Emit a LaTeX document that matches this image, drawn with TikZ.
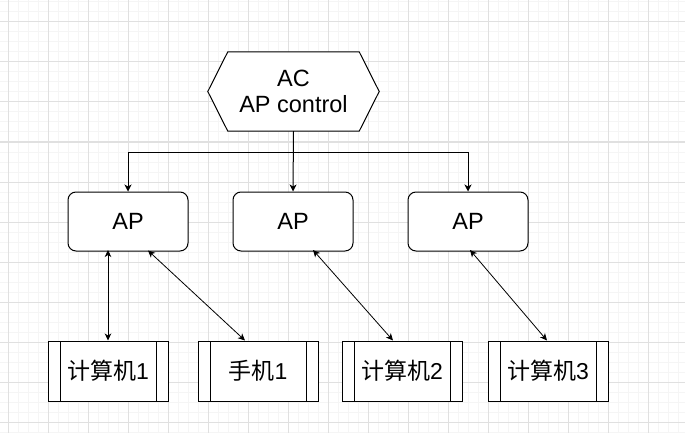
\documentclass[tikz,border=0pt]{standalone}
\usepackage{fontspec}
\setmainfont{Liberation Sans}
\newfontfamily\cjk{Noto Sans CJK SC}
\usepackage{tikz}
\usetikzlibrary{arrows.meta}

\begin{document}
\begin{tikzpicture}[
    x=1pt, y=-1pt,
    minorline/.style={draw=black!4, line width=1pt},
    majorline/.style={draw=black!12, line width=1pt},
    apbox/.style={
        % The shape:
        rectangle,
        rounded corners=8pt,
        % The size:
        minimum width=120pt,
        minimum height=59pt,
        % The border
        line width=1pt,
        draw=black,
        % The filling
        fill=white,
        % Font
        font=\fontsize{23.5}{26}\selectfont
    },
    acbox/.style={
        % The size:
        minimum width=131pt,
        minimum height=79pt,
        % Font
        align=center,
        font=\fontsize{23.5}{25.5}\selectfont
    },
    devbox/.style={
        % The shape:
        rectangle,
        % The size:
        minimum width=120pt,
        minimum height=60pt,
        % The border
        line width=1pt,
        draw=black,
        % The filling
        fill=white,
        % Font
        font=\fontsize{23}{26}\selectfont,
        % The side bars
        path picture={
            \draw[line width=1pt] ([xshift=12pt]path picture bounding box.north west) -- ([xshift=12pt]path picture bounding box.south west);
            \draw[line width=1pt] ([xshift=-12pt]path picture bounding box.north east) -- ([xshift=-12pt]path picture bounding box.south east);
        }
    },
    tip/.style={-{Stealth[length=7pt, width=7pt, inset=2pt]}, line width=1pt},
    both/.style={{Stealth[length=7pt, width=6.5pt, inset=2pt]}-{Stealth[length=7pt, width=6.5pt, inset=2pt]}, line width=0.8pt}
    ]

    % background grid
    \useasboundingbox (0,0) rectangle (685,433);
    \fill[white] (0,0) rectangle (685,433);
    \foreach \g in {8,18,...,678}
        \draw[minorline] (\g,0) -- (\g,433);
    \foreach \g in {2,12,...,432}
        \draw[minorline] (0,\g) -- (685,\g);
    \foreach \g in {8,48,...,648}
        \draw[majorline] (\g,0) -- (\g,433);
    \foreach \g in {22,62,...,422}
        \draw[majorline] (0,\g) -- (685,\g);

    % controller
    \node (ac) [acbox] at (293.5,91.5) {AC\\AP control};
    \draw[line width=1pt, fill=white] (ac.north west) -- (ac.north east) -- ([xshift=20pt]ac.east)
        -- (ac.south east) -- (ac.south west) -- ([xshift=-20pt]ac.west) -- cycle;
    \node [acbox] at (ac) {AC\\AP control};

    % access points
    \foreach \n/\x in {ap1/128, ap2/293, ap3/468}
        \node (\n) [apbox] at (\x,221.5) {AP};

    % devices
    \foreach \n/\x/\ntext in {pc1/108/{{\cjk 计算机}1}, phone/258/{{\cjk 手机}1}, pc2/402/{{\cjk 计算机}2}, pc3/548/{{\cjk 计算机}3}}
        \node (\n) [devbox] at (\x,371) {\ntext};

    \coordinate (split) at (293.5,152);
    \draw[tip] (ac.south) -- (ap2.north);
    \draw[tip] (split) -| (ap1.north);
    \draw[tip] (split) -| (ap3.north);

    \draw[both] ([yshift=1.5pt]ap1.south -| pc1.north) -- (pc1.north);
    \draw[both] ([xshift=20pt, yshift=1pt]ap1.south) -- ([xshift=-13pt]phone.north);
    \draw[both] ([xshift=20pt, yshift=1.5pt]ap2.south) -- ([xshift=-9pt]pc2.north);
    \draw[both] ([xshift=2pt, yshift=1.5pt]ap3.south) -- ([xshift=-1pt]pc3.north);
\end{tikzpicture}
\end{document}
